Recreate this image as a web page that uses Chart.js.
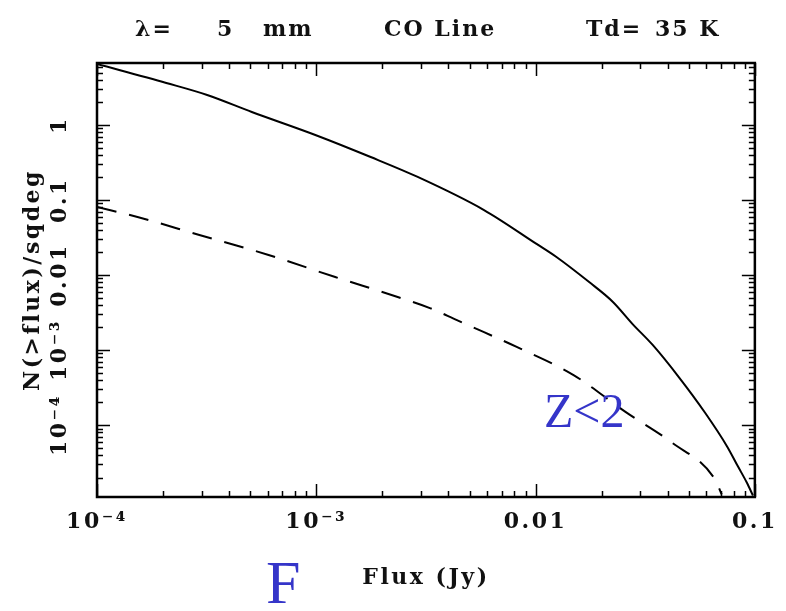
<!DOCTYPE html>
<html lang="en">
<head>
<meta charset="UTF-8">
<title>CO line counts, 5 mm</title>
<script src="https://cdn.jsdelivr.net/npm/chart.js@4"></script>
<style>
  html, body { margin: 0; padding: 0; background: #fff; }
  #wrap { position: relative; width: 786px; height: 611px; }
</style>
</head>
<body>
<div id="wrap"><canvas id="counts"></canvas></div>
<script>
// cumulative counts, all sources (solid)
const fluxAll = [1e-4, 2.07e-4, 3.18e-4, 5.08e-4, 9.9e-4, 1.77e-3, 2.9e-3, 5.82e-3, 0.0101, 0.01245, 0.01755, 0.02253, 0.0277, 0.0342, 0.0449, 0.0594, 0.0747, 0.0838, 0.092, 0.098];
const countsAll = [6.5, 3.63, 2.51, 1.49, 0.736, 0.374, 0.203, 0.0735, 0.026, 0.0174, 8.06e-3, 4.38e-3, 2.22e-3, 1.17e-3, 4.4e-4, 1.45e-4, 5.2e-5, 2.8e-5, 1.7e-5, 1.15e-5];

// z < 2 only (dashed)
const fluxLowZ = [1e-4, 1.53e-4, 2.93e-4, 6.06e-4, 1.22e-3, 2.35e-3, 3.32e-3, 4.38e-3, 5.82e-3, 8.2e-3, 0.0149, 0.0257, 0.042, 0.0658, 0.0706];
const countsLowZ = [0.0805, 0.0594, 0.0342, 0.0185, 9.4e-3, 5.1e-3, 3.6e-3, 2.5e-3, 1.73e-3, 1.1e-3, 4.64e-4, 1.5e-4, 5.8e-5, 1.89e-5, 1.19e-5];

const xTickValues = [1e-4, 1e-3, 0.01, 0.1];
const xTickLabels = ['10⁻⁴', '10⁻³', '0.01', '0.1'];
const yTickValues = [1e-4, 1e-3, 0.01, 0.1, 1];
const yTickLabels = ['10⁻⁴', '10⁻³', '0.01', '0.1', '1'];

const header = ['λ=', '5', 'mm', 'CO Line', 'Td=', '35 K'];
const panelLetter = 'F';
const curveNote = 'Z<2';

const serif = '"DejaVu Serif", serif';

// mantissa 1..9 positions inside [lo, hi] for the log tick marks
function logMarks(lo, hi) {
  const out = [];
  for (let e = Math.floor(Math.log10(lo)); e <= Math.ceil(Math.log10(hi)); e++) {
    for (let m = 1; m < 10; m++) {
      const v = m * Math.pow(10, e);
      if (v >= lo * 0.999 && v <= hi * 1.001) out.push([v, m === 1]);
    }
  }
  return out;
}

// wide spacing for all axis text
const spacing = {
  id: 'spacing',
  beforeDraw(chart) { chart.ctx.letterSpacing = '2.5px'; }
};

// box around the plot with inward ticks on every side
const frame = {
  id: 'frame',
  afterDatasetsDraw(chart) {
    const { ctx, chartArea: a, scales: { x, y } } = chart;
    ctx.save();
    ctx.strokeStyle = '#000';
    ctx.lineWidth = 1.5;
    ctx.beginPath();
    logMarks(x.min, x.max).forEach(([v, major]) => {
      const px = Math.round(x.getPixelForValue(v)) + 0.5, len = major ? 13 : 6;
      ctx.moveTo(px, a.bottom); ctx.lineTo(px, a.bottom - len);
      ctx.moveTo(px, a.top); ctx.lineTo(px, a.top + len);
    });
    logMarks(y.min, y.max).forEach(([v, major]) => {
      const py = Math.round(y.getPixelForValue(v)) + 0.5, len = major ? 13 : 6;
      ctx.moveTo(a.left, py); ctx.lineTo(a.left + len, py);
      ctx.moveTo(a.right, py); ctx.lineTo(a.right - len, py);
    });
    ctx.stroke();
    ctx.lineWidth = 2.5;
    ctx.strokeRect(a.left, a.top, a.right - a.left, a.bottom - a.top);
    ctx.restore();
  }
};

// header line and the blue notes
const headerX = [135, 217, 263, 384, 586, 655];
const notes = {
  id: 'notes',
  afterDraw(chart) {
    const ctx = chart.ctx;
    ctx.save();
    ctx.letterSpacing = '2px';
    ctx.fillStyle = '#111';
    ctx.font = 'bold 22px ' + serif;
    ctx.textAlign = 'left';
    ctx.textBaseline = 'alphabetic';
    header.forEach((t, i) => ctx.fillText(t, headerX[i], 36));
    ctx.letterSpacing = '0px';
    ctx.fillStyle = '#3535c9';
    ctx.font = '62px "Liberation Serif", serif';
    ctx.fillText(panelLetter, 266, 603);
    ctx.font = '48px "Liberation Serif", serif';
    ctx.fillText(curveNote, 544, 427);
    ctx.restore();
  }
};

const axisFont = { family: serif, size: 22, weight: 'bold' };

new Chart(document.getElementById('counts'), {
  type: 'line',
  data: {
    datasets: [
      {
        label: 'all',
        data: fluxAll.map((f, i) => ({ x: f, y: countsAll[i] })),
        borderColor: '#000',
        borderWidth: 2,
        pointRadius: 0,
        cubicInterpolationMode: 'monotone',
        fill: false
      },
      {
        label: 'z<2',
        data: fluxLowZ.map((f, i) => ({ x: f, y: countsLowZ[i] })),
        borderColor: '#000',
        borderWidth: 2,
        borderDash: [20, 13],
        pointRadius: 0,
        cubicInterpolationMode: 'monotone',
        fill: false
      }
    ]
  },
  options: {
    responsive: true,
    maintainAspectRatio: false,
    devicePixelRatio: 1,
    animation: false,
    layout: { padding: { top: 63, right: 26, bottom: 0, left: 0 } },
    plugins: { legend: { display: false }, tooltip: { enabled: false } },
    scales: {
      x: {
        type: 'logarithmic',
        min: 1e-4,
        max: 0.1,
        afterBuildTicks: s => { s.ticks = xTickValues.map(v => ({ value: v })); },
        afterFit: s => { s.height = 114; },
        grid: { display: false, drawTicks: false },
        border: { display: false },
        ticks: {
          autoSkip: false, maxRotation: 0, padding: 12, color: '#111', font: axisFont,
          callback: (v, i) => xTickLabels[i]
        },
        title: { display: true, text: 'Flux (Jy)', color: '#111', font: axisFont, padding: { top: 0, bottom: 20 } }
      },
      y: {
        type: 'logarithmic',
        min: 1.1e-5,
        max: 6.7,
        afterBuildTicks: s => { s.ticks = yTickValues.map(v => ({ value: v })); },
        afterFit: s => { s.width = 97; },
        grid: { display: false, drawTicks: false },
        border: { display: false },
        ticks: {
          autoSkip: false, minRotation: 90, maxRotation: 90, crossAlign: 'center', padding: 10,
          color: '#111', font: axisFont,
          callback: (v, i) => yTickLabels[i]
        },
        title: { display: true, text: 'N(>flux)/sqdeg', color: '#111', font: axisFont, padding: { top: 20, bottom: 0 } }
      }
    }
  },
  plugins: [spacing, frame, notes]
});
</script>
</body>
</html>
